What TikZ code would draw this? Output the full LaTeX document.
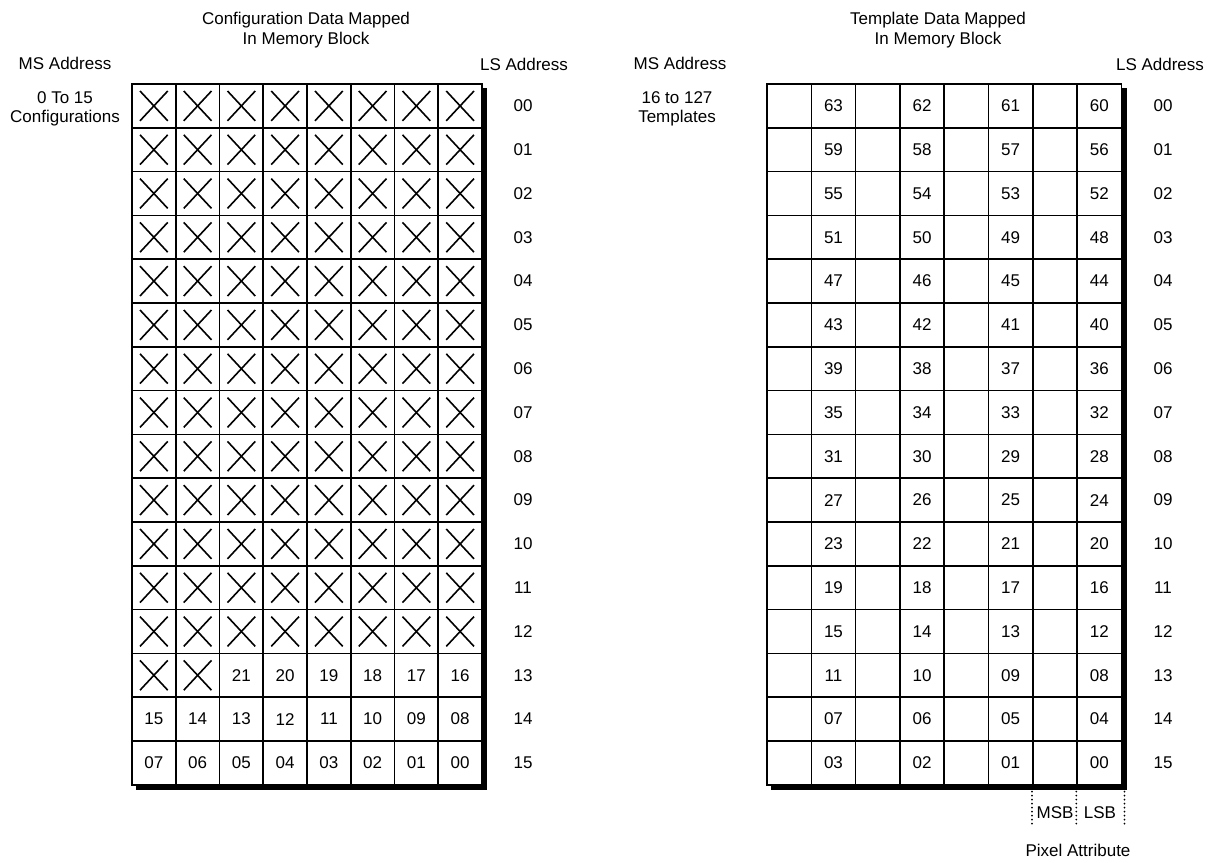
\documentclass[tikz,border=0pt]{standalone}
\usepackage{fontspec}
\setmainfont{Liberation Sans}
\newcommand\lbl{\fontsize{17}{19.5}\selectfont}
\tikzset{
  cellL/.style={draw, line width=1.6pt, minimum width=43.75pt, minimum height=43.8pt, inner sep=0pt, font=\lbl},
  cellR/.style={draw, line width=1.6pt, minimum width=44.3pt, minimum height=43.8pt, inner sep=0pt, font=\lbl},
  xmark/.style={path picture={
      \draw[line width=1.6pt] ([shift={(8pt,-7pt)}]path picture bounding box.north west) -- ([shift={(-8pt,7pt)}]path picture bounding box.south east);
      \draw[line width=1.6pt] ([shift={(-8pt,-7pt)}]path picture bounding box.north east) -- ([shift={(8pt,7pt)}]path picture bounding box.south west);}},
  shadowline/.style={line width=4.5pt},
  txt/.style={font=\lbl, inner sep=0pt, align=center},
  dotline/.style={line width=1.9pt, line cap=round, dash pattern=on 0pt off 4pt}
}
\begin{document}
\begin{tikzpicture}[x=1pt,y=-1pt]
\useasboundingbox (0,0) rectangle (1220,862);
\fill[white] (0,0) rectangle (1220,862);

% ---------- left block ----------
\node[txt] (titleL) at (306,30) {Configuration Data Mapped\\In Memory Block};
\node[txt] (msL) at (65,63) {MS Address};
\node[txt] (msLsub) at (65,109) {0 To 15\\Configurations};
\node[txt] (lsL) at (524,64) {LS Address};

\foreach \r in {0,...,15}{
  \foreach \c in {0,...,7}{
    \pgfmathtruncatemacro\v{8*(15-\r)+7-\c}
    \ifnum\v>21
      \node[cellL, xmark] (L\r-\c) at ({132+43.75*(\c+0.5)},{84+43.8*(\r+0.5)}) {};
    \else
      \node[cellL] (L\r-\c) at ({132+43.75*(\c+0.5)},{84+43.8*(\r+0.5)}) {\ifnum\v<10 0\fi\v};
    \fi
  }
  \node[txt] (rowL\r) at ({523},{84+43.8*(\r+0.5)}) {\ifnum\r<10 0\fi\r};
}
\draw[shadowline] ([xshift=2.3pt,yshift=-5pt]L0-7.north east) -- ([xshift=2.3pt,yshift=-2.3pt]L15-7.south east) -- ([xshift=5pt,yshift=-2.3pt]L15-0.south west);

% ---------- right block ----------
\node[txt] (titleR) at (938,30) {Template Data Mapped\\In Memory Block};
\node[txt] (msR) at (680,63) {MS Address};
\node[txt] (msRsub) at (677,109) {16 to 127\\Templates};
\node[txt] (lsR) at (1160,64) {LS Address};

\foreach \r in {0,...,15}{
  \foreach \c in {0,...,7}{
    \pgfmathtruncatemacro\odd{mod(\c,2)}
    \pgfmathtruncatemacro\v{4*(15-\r)+(7-\c)/2}
    \ifnum\odd=1
      \node[cellR] (R\r-\c) at ({767+44.3*(\c+0.5)},{84+43.8*(\r+0.5)}) {\ifnum\v<10 0\fi\v};
    \else
      \node[cellR] (R\r-\c) at ({767+44.3*(\c+0.5)},{84+43.8*(\r+0.5)}) {};
    \fi
  }
  \node[txt] (rowR\r) at ({1163},{84+43.8*(\r+0.5)}) {\ifnum\r<10 0\fi\r};
}
\draw[shadowline] ([xshift=2.3pt,yshift=-5pt]R0-7.north east) -- ([xshift=2.3pt,yshift=-2.3pt]R15-7.south east) -- ([xshift=5pt,yshift=-2.3pt]R15-0.south west);

% ---------- pixel attribute ----------
\coordinate (d1) at ([yshift=-6pt]R15-6.south west);
\coordinate (d2) at ([yshift=-6pt]R15-7.south west);
\coordinate (d3) at ([xshift=2.3pt,yshift=-6pt]R15-7.south east);
\draw[dotline] (d1) -- ++(0,34);
\draw[dotline] (d2) -- ++(0,34);
\draw[dotline] (d3) -- ++(0,34);
\node[txt] (msb) at (1055,813) {MSB};
\node[txt] (lsb) at (1100,813) {LSB};
\node[txt] (pix) at (1078,850) {Pixel Attribute};
\end{tikzpicture}
\end{document}
